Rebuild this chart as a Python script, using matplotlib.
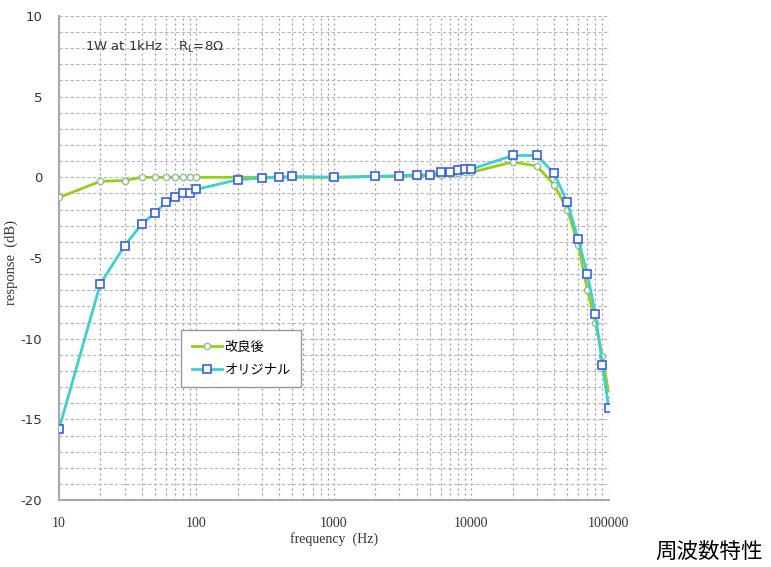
import matplotlib
matplotlib.use("Agg")
import matplotlib.pyplot as plt
import numpy as np
from matplotlib.ticker import FixedLocator, NullFormatter

freq = [10, 20, 30, 40, 50, 60, 70, 80, 90, 100,
        200, 300, 400, 500, 1000, 2000, 3000, 4000, 5000,
        6000, 7000, 8000, 9000, 10000, 20000, 30000,
        40000, 50000, 60000, 70000, 80000, 90000, 100000]

# 改良後 (improved)
resp_new = [-1.25, -0.25, -0.2, 0.0, 0.0, 0.0, 0.0, 0.0, 0.0, 0.0,
            0.0, 0.0, 0.0, 0.0, 0.0, 0.05, 0.05, 0.1, 0.1,
            0.15, 0.2, 0.25, 0.3, 0.3, 0.95, 0.7,
            -0.45, -2.0, -4.2, -7.0, -9.0, -11.1, -13.4]

# オリジナル (original)
resp_org = [-15.6, -6.6, -4.25, -2.9, -2.2, -1.55, -1.25, -0.95, -0.95, -0.75,
            -0.15, -0.05, 0.0, 0.05, 0.0, 0.05, 0.1, 0.15, 0.15,
            0.3, 0.35, 0.45, 0.5, 0.5, 1.35, 1.35,
            0.25, -1.55, -3.85, -6.0, -8.5, -11.6, -14.3]

xticks = [10, 100, 1000, 10000, 100000]
yticks = [-20, -15, -10, -5, 0, 5, 10]

fig = plt.figure(figsize=(7.71, 5.67), dpi=100)
ax = fig.add_axes([0.0765, 0.118, 0.713, 0.854])

ax.plot(freq, resp_new, color="#9acd1a", lw=2, marker="o", ms=4.5,
        mfc="white", mec="#8fbf8f", mew=1, label="改良後", zorder=3)
ax.plot(freq, resp_org, color="#3fcfcf", lw=2, marker="s", ms=5.5,
        mfc="white", mec="#3a5fe0", mew=1.2, label="オリジナル", zorder=4)

ax.set_xscale("log")
ax.set_xlim(10, 100000)
ax.set_ylim(-20, 10)

ax.xaxis.set_major_locator(FixedLocator(xticks))
ax.xaxis.set_minor_locator(FixedLocator(
    [m * d for d in [10, 100, 1000, 10000] for m in range(2, 10)]))
ax.xaxis.set_minor_formatter(NullFormatter())
ax.set_xticklabels([str(t) for t in xticks], family="Liberation Serif",
                   fontsize=10, color="#333333")
ax.set_yticks(yticks)
ax.set_yticks(np.arange(-20, 11, 1), minor=True)
ax.set_yticklabels([str(t) for t in yticks], fontsize=9.5, color="#333333")

ax.tick_params(which="both", length=0)
ax.tick_params(axis="x", pad=12)
ax.tick_params(axis="y", pad=12)

ax.grid(True, axis="y", which="both", ls=(0, (3, 2)), color="#b5b5b5", lw=0.8)
ax.grid(True, axis="x", which="both", ls=(0, (1.5, 2.5)), color="#999999", lw=0.9)

for s in ["top", "right"]:
    ax.spines[s].set_visible(False)
for s in ["left", "bottom"]:
    ax.spines[s].set_color("#a8a8a8")
    ax.spines[s].set_linewidth(1.5)

ax.set_xlabel("frequency  (Hz)", family="Liberation Serif", fontsize=10,
              color="#333333", labelpad=2)
ax.set_ylabel("response  (dB)", family="Liberation Serif", fontsize=10.5,
              color="#333333")
ax.yaxis.set_label_coords(-0.074, 0.49)

ax.text(15.5, 8.1, "1W at 1kHz    R$_\\mathregular{L}$=8Ω", fontsize=9.5,
        color="#333333", va="center")

leg = ax.legend(loc="upper left", bbox_to_anchor=(0.21, 0.365),
                prop={"family": ["Noto Sans CJK JP", "DejaVu Sans"], "size": 9.5},
                frameon=True, fancybox=False, edgecolor="#999999",
                framealpha=1, handlelength=2.3, borderpad=0.8,
                labelspacing=0.75, handletextpad=0.2)
leg.get_frame().set_linewidth(1)

fig.text(0.919, 0.027, "周波数特性", family=["Noto Sans CJK JP", "DejaVu Sans"],
         fontsize=15.5, ha="center", va="center")

fig.savefig("out.png", dpi=100)
